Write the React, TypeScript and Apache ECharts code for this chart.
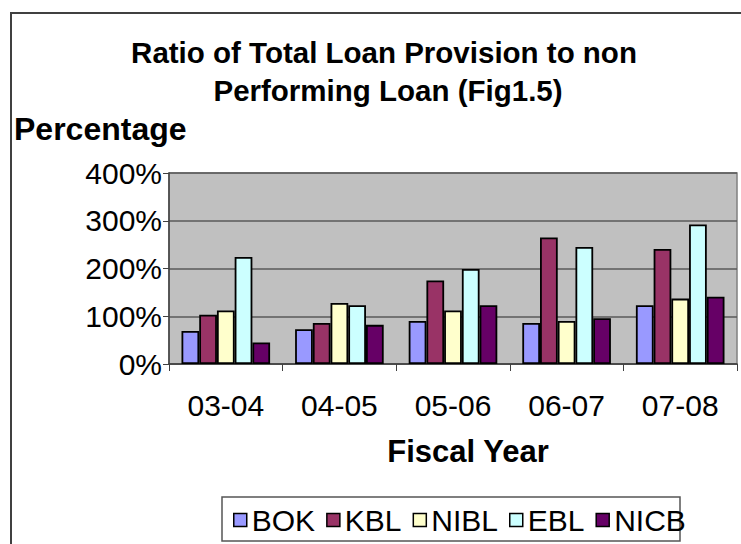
import React, { useEffect, useRef } from "react";
import * as echarts from "echarts";

const categories = ["03-04", "04-05", "05-06", "06-07", "07-08"];
const seriesNames = ["BOK", "KBL", "NIBL", "EBL", "NICB"];
const bokValues = [69, 73, 90, 86, 123];
const kblValues = [103, 86, 175, 265, 241];
const niblValues = [112, 128, 112, 90, 137];
const eblValues = [224, 123, 199, 245, 292];
const nicbValues = [45, 82, 123, 96, 141];
const seriesColors = ["#9999FF", "#993366", "#FFFFCC", "#CCFFFF", "#660066"];
const titleLines = ["Ratio of Total Loan Provision to non", "Performing Loan (Fig1.5)"];
const yAxisTitle = "Percentage";
const xAxisTitle = "Fiscal Year";

const FONT = "Arial, 'Liberation Sans', sans-serif";

export default function App() {
  const ref = useRef<HTMLDivElement>(null);
  useEffect(() => {
    if (!ref.current) return;
    const chart = echarts.init(ref.current, undefined, { renderer: "svg" });
    const values = [bokValues, kblValues, niblValues, eblValues, nicbValues];
    chart.setOption({
      animation: false,
      backgroundColor: "#ffffff",
      textStyle: { fontFamily: FONT },
      grid: {
        left: 169,
        right: 4,
        top: 173,
        bottom: 180,
        show: true,
        backgroundColor: "#C0C0C0",
        borderColor: "#808080",
        borderWidth: 1.5,
      },
      graphic: [
        {
          type: "rect",
          z: -10,
          shape: { x: 11, y: 13, width: 780, height: 580 },
          style: { fill: "none", stroke: "#404040", lineWidth: 2 },
        },
        {
          type: "rect",
          z: -10,
          shape: { x: 222, y: 497, width: 458, height: 44 },
          style: { fill: "none", stroke: "#555555", lineWidth: 1.5 },
        },
        {
          type: "text",
          x: 384,
          y: 52,
          style: {
            text: titleLines[0],
            fontFamily: FONT,
            fontSize: 29.5,
            fontWeight: "bold",
            fill: "#000",
            textAlign: "center",
            textVerticalAlign: "middle",
          },
        },
        {
          type: "text",
          x: 388,
          y: 90,
          style: {
            text: titleLines[1],
            fontFamily: FONT,
            fontSize: 29.5,
            fontWeight: "bold",
            fill: "#000",
            textAlign: "center",
            textVerticalAlign: "middle",
          },
        },
        {
          type: "text",
          x: 14,
          y: 129,
          style: {
            text: yAxisTitle,
            fontFamily: FONT,
            fontSize: 32,
            fontWeight: "bold",
            fill: "#000",
            textAlign: "left",
            textVerticalAlign: "middle",
          },
        },
      ],
      legend: {
        data: seriesNames,
        left: 233,
        top: 505,
        padding: 0,
        itemGap: 11,
        itemWidth: 13,
        itemHeight: 13,
        icon: "rect",
        itemStyle: { borderColor: "#000", borderWidth: 1.5 },
        textStyle: { fontFamily: FONT, fontSize: 30, color: "#000" },
      },
      xAxis: {
        type: "category",
        data: categories,
        name: xAxisTitle,
        nameLocation: "middle",
        nameGap: 72,
        nameTextStyle: {
          fontFamily: FONT,
          fontSize: 31,
          fontWeight: "bold",
          color: "#000",
          padding: [0, 0, 0, 30],
        },
        axisLine: { show: true, lineStyle: { color: "#404040", width: 1.5 } },
        axisTick: { show: true, length: 7, lineStyle: { color: "#404040", width: 1 } },
        axisLabel: { fontFamily: FONT, fontSize: 30, color: "#000", margin: 26 },
      },
      yAxis: {
        type: "value",
        min: 0,
        max: 400,
        interval: 100,
        axisLine: { show: true, lineStyle: { color: "#404040", width: 1.5 } },
        axisTick: { show: true, length: 6, lineStyle: { color: "#404040", width: 1 } },
        axisLabel: {
          fontFamily: FONT,
          fontSize: 30,
          color: "#000",
          margin: 7,
          formatter: "{value}%",
        },
        splitLine: { show: true, lineStyle: { color: "#5a5a5a", width: 1.5 } },
      },
      series: seriesNames.map((name, i) => ({
        name,
        type: "bar",
        data: values[i],
        barGap: "0%",
        barCategoryGap: "22%",
        itemStyle: { color: seriesColors[i], borderColor: "#000", borderWidth: 1.8 },
      })),
    });
    return () => chart.dispose();
  }, []);
  return (
    <div
      ref={ref}
      style={{ position: "fixed", left: 0, top: 0, width: 741, height: 544 }}
    />
  );
}
